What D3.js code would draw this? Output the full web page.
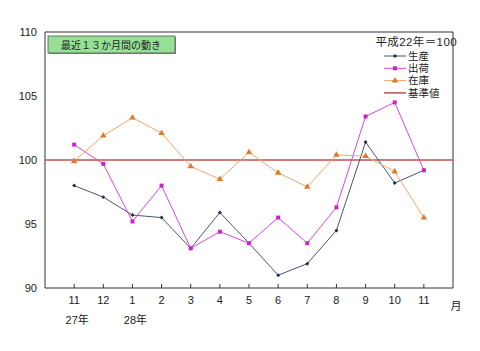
<!DOCTYPE html>
<html>
<head>
<meta charset="utf-8">
<script src="https://cdn.jsdelivr.net/npm/d3@7"></script>
<style>
  body { margin: 0; background: #fff; }
  svg { display: block; font-family: "Liberation Sans", "Noto Sans CJK JP", sans-serif; }
</style>
</head>
<body>
<svg width="480" height="351"></svg>
<script>
const width = 480;
const height = 351;

// データ
const months = ["11", "12", "1", "2", "3", "4", "5", "6", "7", "8", "9", "10", "11"];
const yearLabels = [{ i: 0, t: "27年" }, { i: 2, t: "28年" }];
const seisan = [98.0, 97.1, 95.7, 95.5, 93.1, 95.9, 93.5, 91.0, 91.9, 94.5, 101.4, 98.2, 99.2];
const shukka = [101.2, 99.7, 95.2, 98.0, 93.1, 94.4, 93.5, 95.5, 93.5, 96.3, 103.4, 104.5, 99.2];
const zaiko = [99.9, 101.9, 103.3, 102.1, 99.5, 98.5, 100.6, 99.0, 97.9, 100.4, 100.3, 99.1, 95.5];
const baseValue = 100;
const yTicks = [90, 95, 100, 105, 110];

const margin = { left: 45, right: 27, top: 32, bottom: 63 };
const svg = d3.select("svg").attr("viewBox", [0, 0, width, height]);

const x = d3.scaleLinear()
    .domain([0, 14])
    .range([margin.left, width - margin.right]);

const y = d3.scaleLinear()
    .domain([90, 110])
    .range([height - margin.bottom, margin.top]);

const x0 = x(0), x1 = x(14), y0 = y(90), y1 = y(110);

// 枠
svg.append("path")
    .attr("d", `M${x0},${y1}H${x1}V${y0}`)
    .attr("fill", "none")
    .attr("stroke", "#333")
    .attr("stroke-width", 1);

// Y軸
svg.append("line")
    .attr("x1", x0).attr("x2", x0).attr("y1", y1).attr("y2", y0)
    .attr("stroke", "#333");
svg.append("g")
    .selectAll("text")
    .data(yTicks)
    .join("text")
    .attr("x", x0 - 8)
    .attr("y", d => y(d))
    .attr("dy", "0.35em")
    .attr("text-anchor", "end")
    .attr("font-size", 11)
    .attr("fill", "#222")
    .text(d => d);

// X軸
svg.append("line")
    .attr("x1", x0).attr("x2", x1).attr("y1", y0).attr("y2", y0)
    .attr("stroke", "#333");
svg.append("g")
    .selectAll("line")
    .data(months)
    .join("line")
    .attr("x1", (d, i) => x(i + 1))
    .attr("x2", (d, i) => x(i + 1))
    .attr("y1", y0 - 4)
    .attr("y2", y0)
    .attr("stroke", "#333");
svg.append("g")
    .selectAll("text")
    .data(months)
    .join("text")
    .attr("x", (d, i) => x(i + 1))
    .attr("y", y0 + 16)
    .attr("text-anchor", "middle")
    .attr("font-size", 11)
    .attr("fill", "#222")
    .text(d => d);
svg.append("g")
    .selectAll("text")
    .data(yearLabels)
    .join("text")
    .attr("x", d => x(d.i + 1) + 3)
    .attr("y", y0 + 36)
    .attr("text-anchor", "middle")
    .attr("font-size", 11)
    .attr("fill", "#222")
    .text(d => d.t);
svg.append("text")
    .attr("x", x(14) + 3)
    .attr("y", y0 + 22)
    .attr("text-anchor", "middle")
    .attr("font-size", 11)
    .attr("fill", "#222")
    .text("月");

// 基準値
svg.append("line")
    .attr("x1", x0).attr("x2", x1)
    .attr("y1", y(baseValue)).attr("y2", y(baseValue))
    .attr("stroke", "#c0504d")
    .attr("stroke-width", 1.5);

const line = d3.line()
    .x((d, i) => x(i + 1))
    .y(d => y(d));

const series = [
    { name: "生産", values: seisan, line: "#4a5575", mark: "#1f2d50", shape: d3.symbolDiamond2, size: 10 },
    { name: "出荷", values: shukka, line: "#dd44dd", mark: "#cc22cc", shape: d3.symbolSquare, size: 16 },
    { name: "在庫", values: zaiko, line: "#f0a868", mark: "#e07830", shape: d3.symbolTriangle, size: 18 }
];

series.forEach(s => {
    svg.append("path")
        .datum(s.values)
        .attr("fill", "none")
        .attr("stroke", s.line)
        .attr("stroke-width", 1)
        .attr("d", line);
    svg.append("g")
        .selectAll("path")
        .data(s.values)
        .join("path")
        .attr("transform", (d, i) => `translate(${x(i + 1)},${y(d)})`)
        .attr("d", d3.symbol(s.shape, s.size))
        .attr("fill", s.mark);
});

// タイトルボックス
svg.append("rect")
    .attr("x", 49).attr("y", 37).attr("width", 127).attr("height", 17)
    .attr("fill", "#888");
svg.append("rect")
    .attr("x", 48).attr("y", 36).attr("width", 127).attr("height", 17)
    .attr("fill", "#96e096")
    .attr("stroke", "#555")
    .attr("stroke-width", 0.8);
svg.append("text")
    .attr("x", 111).attr("y", 45)
    .attr("dy", "0.35em")
    .attr("text-anchor", "middle")
    .attr("font-size", 10)
    .attr("fill", "#222")
    .text("最近１３か月間の動き");

// 凡例
svg.append("text")
    .attr("x", 457).attr("y", 42)
    .attr("dy", "0.35em")
    .attr("text-anchor", "end")
    .attr("font-size", 11.5)
    .attr("letter-spacing", 0.4)
    .attr("fill", "#222")
    .text("平成22年＝100");

const legendItems = series.concat([{ name: "基準値", line: "#c0504d", mark: null }]);
const legend = svg.append("g")
    .selectAll("g")
    .data(legendItems)
    .join("g")
    .attr("transform", (d, i) => `translate(384,${56 + i * 12.3})`);
legend.append("line")
    .attr("x1", 0).attr("x2", 22)
    .attr("stroke", d => d.line)
    .attr("stroke-width", d => d.mark ? 1 : 1.5);
legend.filter(d => d.mark)
    .append("path")
    .attr("transform", "translate(11,0)")
    .attr("d", d => d3.symbol(d.shape, d.size)())
    .attr("fill", d => d.mark);
legend.append("text")
    .attr("x", 24)
    .attr("dy", "0.35em")
    .attr("font-size", 10.5)
    .attr("fill", "#222")
    .text(d => d.name);
</script>
</body>
</html>
